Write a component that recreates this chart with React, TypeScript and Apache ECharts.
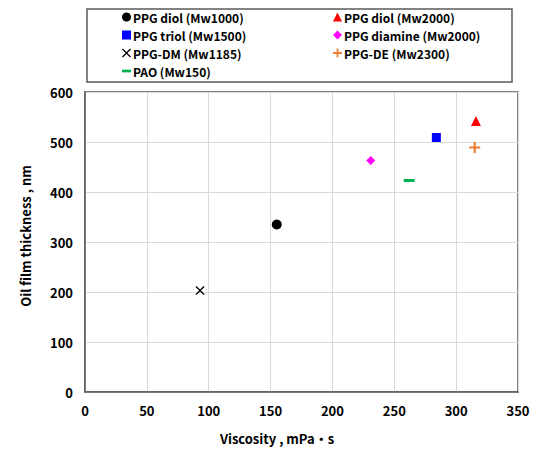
import React, { useEffect, useRef } from "react";
import * as echarts from "echarts";

const seriesNames = [
  "PPG diol (Mw1000)",
  "PPG diol (Mw2000)",
  "PPG triol (Mw1500)",
  "PPG diamine (Mw2000)",
  "PPG-DM (Mw1185)",
  "PPG-DE (Mw2300)",
  "PAO (Mw150)",
];
const viscosity = [155, 316, 284, 231, 93, 315, 262];
const thickness = [335, 542, 509, 463, 203, 489, 423];
const colors = ["#000000", "#FF0000", "#0000FF", "#FF00FF", "#000000", "#ED7D31", "#00B050"];

const xTitle = "Viscosity , mPa・s";
const yTitle = "Oil film thickness , nm";

const crossPath = "path://M0,1L1,0L5,4L9,0L10,1L6,5L10,9L9,10L5,6L1,10L0,9L4,5Z";
const plusPath = "path://M4,0H6V4H10V6H6V10H4V6H0V4H4Z";
const squarePath = "path://M0,0H10V10H0Z";
const symbols: any[] = ["circle", "triangle", "rect", "diamond", crossPath, plusPath, "rect"];
const sizes: any[] = [10, 10, 9, 9, 9, 11, [11, 3]];

const FONT = "'Noto Sans CJK JP', 'Noto Sans', sans-serif";

export default function App() {
  const ref = useRef<HTMLDivElement>(null);
  useEffect(() => {
    const chart = echarts.init(ref.current!, undefined, { renderer: "svg" });
    const series = seriesNames.map((name, i) => ({
      name,
      type: "scatter",
      data: [[viscosity[i], thickness[i]]],
      symbol: symbols[i],
      symbolSize: sizes[i],
      itemStyle: { color: colors[i], opacity: 1 },
    }));
    const legendText = {
      color: "#000",
      fontSize: 12,
      fontWeight: "bold",
      fontFamily: FONT,
      padding: [0, 0, 0, -3],
    };
    const mkLegend = (names: number[], left: number) => ({
      orient: "vertical",
      left,
      top: 11,
      itemGap: 6,
      itemWidth: 9,
      itemHeight: 9,
      padding: 0,
      textStyle: legendText,
      selectedMode: false,
      data: names.map((i) => ({
        name: seriesNames[i],
        icon: i === 6 ? "path://M0,0H10V3H0Z" : i === 2 ? squarePath : symbols[i],
        itemStyle: { color: colors[i] },
      })),
    });
    chart.setOption({
      animation: false,
      textStyle: { fontFamily: FONT },
      grid: { left: 85, top: 92, right: 15, bottom: 57, show: true, borderColor: "#595959", borderWidth: 1.5 },
      legend: [mkLegend([0, 2, 4, 6], 122), mkLegend([1, 3, 5], 333)],
      xAxis: {
        type: "value",
        min: 0,
        max: 350,
        interval: 50,
        axisLine: { show: true, lineStyle: { color: "#595959", width: 1.5 } },
        axisTick: { show: false },
        splitLine: { show: true, lineStyle: { color: "#D9D9D9", width: 1 } },
        axisLabel: { color: "#000", fontSize: 13, fontWeight: "bold", margin: 12, fontFamily: FONT },
      },
      yAxis: {
        type: "value",
        min: 0,
        max: 600,
        interval: 100,
        axisLine: { show: true, lineStyle: { color: "#595959", width: 1.5 } },
        axisTick: { show: false },
        splitLine: { show: true, lineStyle: { color: "#D9D9D9", width: 1 } },
        axisLabel: { color: "#000", fontSize: 13, fontWeight: "bold", margin: 12, fontFamily: FONT },
      },
      graphic: [
        {
          type: "rect",
          shape: { x: 87, y: 9, width: 425, height: 73 },
          style: { fill: "none", stroke: "#595959", lineWidth: 1.5 },
          silent: true,
        },
        {
          type: "text",
          x: 277,
          y: 438,
          style: {
            text: xTitle,
            fill: "#000",
            font: `bold 13px ${FONT}`,
            align: "center",
            verticalAlign: "middle",
          },
        },
        {
          type: "text",
          x: 25,
          y: 236,
          rotation: Math.PI / 2,
          style: {
            text: yTitle,
            fill: "#000",
            font: `bold 13px ${FONT}`,
            align: "center",
            verticalAlign: "middle",
          },
        },
      ],
      series,
    });
    return () => chart.dispose();
  }, []);
  return (
    <div
      ref={ref}
      style={{ position: "absolute", left: 0, top: 0, width: 533, height: 449 }}
    />
  );
}
